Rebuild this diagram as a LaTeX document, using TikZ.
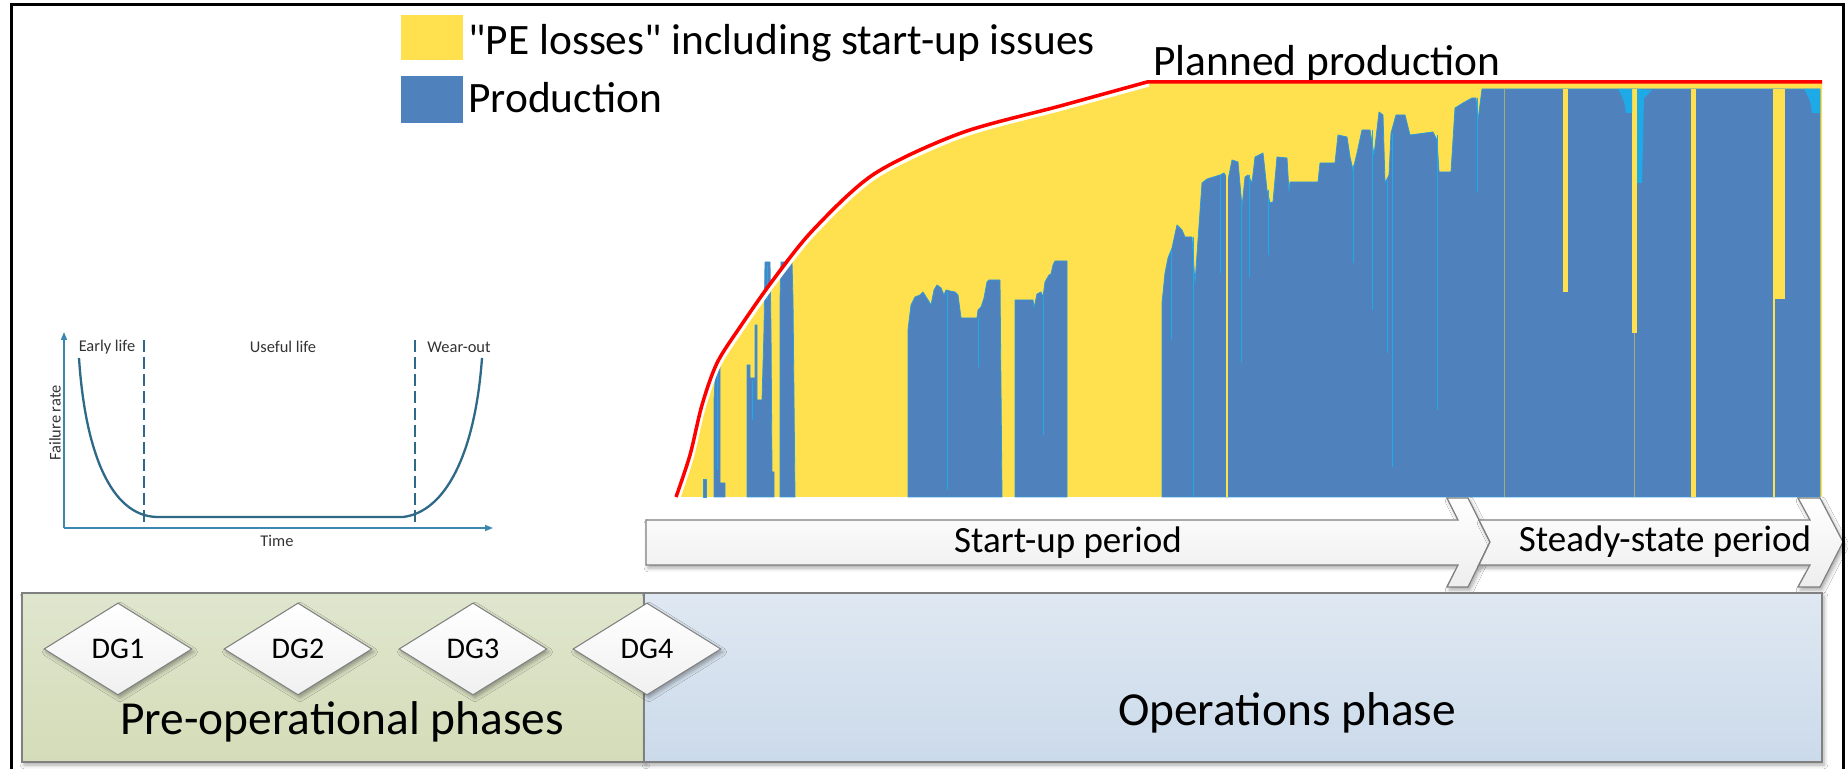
\documentclass[tikz,border=0pt]{standalone}
\usepackage{fontspec}
\setmainfont{Carlito}[Ligatures=TeXOff]
\usetikzlibrary{shapes.geometric,shadows.blur,arrows.meta}
\definecolor{ylw}{RGB}{255,225,80}
\definecolor{prodblue}{RGB}{79,129,189}
\definecolor{spikecyan}{RGB}{30,170,230}
\definecolor{tubcurve}{RGB}{46,105,135}
\definecolor{tubaxis}{RGB}{60,135,175}
\definecolor{olivetop}{RGB}{223,230,206}
\definecolor{olivebot}{RGB}{212,220,184}
\definecolor{opstop}{RGB}{223,232,242}
\definecolor{opsbot}{RGB}{203,218,234}
\definecolor{edgegray}{RGB}{128,128,128}
\definecolor{thinline}{RGB}{170,170,120}
\begin{document}
\begin{tikzpicture}[x=0.5pt,y=-0.5pt,
  legendtext/.style={font=\fontsize{21.7}{26}\selectfont, inner sep=0pt},
  periodtext/.style={font=\fontsize{18.5}{22}\selectfont, inner sep=0pt},
  phasetext/.style={font=\fontsize{23.7}{28}\selectfont, inner sep=0pt},
  tubtext/.style={font=\fontsize{8.2}{10}\selectfont, inner sep=0pt, text=black!80},
  softshadow/.style={blur shadow={shadow xshift=1pt, shadow yshift=-1.5pt, shadow blur steps=4, shadow opacity=35}},
  gate/.style={diamond, draw=edgegray, line width=0.5pt, top color=white, bottom color=black!6,
    minimum width=74pt, minimum height=46pt, inner sep=0pt, font=\fontsize{15}{18}\selectfont, softshadow},
  chevron/.style={draw=edgegray, line width=0.6pt, top color=white, bottom color=black!7, softshadow},
  phasebox/.style={draw=edgegray, line width=0.6pt, softshadow},
  prod/.style={fill=prodblue, draw=spikecyan!60!prodblue, line width=0.4pt, line join=round},
  spike/.style={draw=spikecyan, line width=0.5pt},
  ygap/.style={fill=ylw},
]
\useasboundingbox (0,0) rectangle (1848,769);
\fill[white] (0,0) rectangle (1848,769);

% ---------- legend ----------
\fill[ylw] (401,15) rectangle (463,60);
\fill[prodblue] (401,76) rectangle (463,123);
\node[legendtext, anchor=base west] (pelabel) at (468,55) {"PE losses" including start-up issues};
\node[legendtext, anchor=base west] (prodlabel) at (468,113) {Production};
\node[legendtext, anchor=base west] (planlabel) at (1153,76) {Planned production};

% ---------- planned area ----------
\fill[ylw] plot[smooth] coordinates {(676,497) (690,455) (702,405) (717,363) (740,327) (773,280) (813,230) (874,174) (961,133) (1060,106) (1147,82)} -- (1822,82) -- (1822,497) -- cycle;

% ---------- production bars ----------
\path[prod] (703,497) rectangle (706,479);
\path[prod] (714,497) -- (714,400) -- (716,363) -- (720,363) -- (720,483) -- (725,483) -- (725,497) -- cycle;
\path[prod] (747,497) -- (747,365) -- (750,365) -- (750,378) -- (755,378) -- (755,325) -- (757,325) -- (757,400) -- (762,400) -- (764,330) -- (765,262) -- (770,262) -- (771,330) -- (772,472) -- (774,472) -- (774,497) -- cycle;
\path[prod] (780,497) -- (780,300) -- (781,262) -- (792,262) -- (793,300) -- (795,497) -- cycle;
\path[prod] (908,497) -- (908,330) -- (911,305) -- (915,297) -- (920,295) -- (923,292) -- (928,300) -- (931,305) -- (934,290) -- (937,285) -- (941,288) -- (944,295) -- (946,290) -- (950,291) -- (955,292) -- (958,295) -- (961,318) -- (977,318) -- (978,310) -- (981,307) -- (984,298) -- (987,282) -- (989,280) -- (1000,280) -- (1002,497) -- cycle;
\path[prod] (1015,497) -- (1015,300) -- (1033,300) -- (1034,308) -- (1037,294) -- (1041,292) -- (1043,297) -- (1045,282) -- (1049,275) -- (1051,274) -- (1053,265) -- (1055,261) -- (1067,261) -- (1067,497) -- cycle;
\path[prod] (1162,497) -- (1162,303) -- (1165,273) -- (1168,258) -- (1172,248) -- (1177,225) -- (1182,230) -- (1185,237) -- (1192,237) -- (1195,283) -- (1198,240) -- (1202,183) -- (1207,179) -- (1220,175) -- (1224,173) -- (1228,180) -- (1232,160) -- (1238,162) -- (1242,207) -- (1245,177) -- (1248,175) -- (1252,183) -- (1255,157) -- (1263,153) -- (1267,190) -- (1270,203) -- (1273,202) -- (1277,157) -- (1287,158) -- (1289,192) -- (1290,182) -- (1318,182) -- (1320,163) -- (1335,163) -- (1338,135) -- (1347,137) -- (1350,157) -- (1353,170) -- (1357,153) -- (1362,130) -- (1370,130) -- (1374,155) -- (1379,112) -- (1383,115) -- (1385,183) -- (1389,175) -- (1391,133) -- (1396,115) -- (1405,115) -- (1410,135) -- (1433,132) -- (1437,140) -- (1439,172) -- (1451,172) -- (1455,108) -- (1463,103) -- (1472,98) -- (1476,98) -- (1478,120) -- (1482,89) -- (1820,89) -- (1820,497) -- cycle;

% spikes (dips) in light blue
\foreach \sx/\st/\sb in {717/365/470, 752/380/420, 767/265/300, 947/292/490, 978/318/367, 1043/297/435,
  1171/250/340, 1193/237/497, 1220/175/273, 1241/205/363, 1249/175/277, 1268/190/255, 1353/165/263,
  1372/130/310, 1387/180/353, 1392/133/467, 1437/135/410, 1477/98/193}
  \draw[spike] (\sx,\st) -- (\sx,\sb);
\draw[ylw, line width=1pt] (1227,175) -- (1227,497);
% steady-state gaps
\draw[thinline, line width=0.4pt] (1504,89) -- (1504,497);
\path[ygap] (1563,89) rectangle (1568,292);
\path[ygap] (1632,89) rectangle (1637,333);
\draw[thinline, line width=0.4pt] (1634,333) -- (1634,497);
\path[ygap] (1691,89) rectangle (1696,497);
\path[ygap] (1773,89) rectangle (1785,299);
\path[ygap] (1773,299) rectangle (1775,497);
\fill[spikecyan] (1618,89) -- (1632,89) -- (1632,113) -- (1626,113) .. controls (1624,100) .. (1618,89) -- cycle;
\fill[spikecyan] (1637,89) -- (1652,90) -- (1644,98) -- (1642,183) -- (1637,183) -- cycle;
\fill[spikecyan] (1804,89) -- (1820,89) -- (1820,113) -- (1812,113) .. controls (1810,100) .. (1804,89) -- cycle;

% white gap under planned line and planned line
\begin{scope}[shift={(2,3)}]
\draw[white, line width=1.6pt] plot[smooth] coordinates {(676,497) (690,455) (702,405) (717,363) (740,327) (773,280) (813,230) (874,174) (961,133) (1060,106) (1147,82)};
\end{scope}
\draw[red, line width=1.75pt, line join=round] plot[smooth] coordinates {(676,497) (690,455) (702,405) (717,363) (740,327) (773,280) (813,230) (874,174) (961,133) (1060,106) (1147,82)} -- (1822,82);

% ---------- bathtub curve ----------
\coordinate (tuborigin) at (64,528);
\coordinate (tubytop) at (64,332);
\coordinate (tubxend) at (493,528);
\draw[tubaxis, line width=0.8pt, -{Triangle[length=4pt,width=3pt]}] (tuborigin) -- (tubytop);
\draw[tubaxis, line width=0.8pt, -{Triangle[length=4pt,width=3pt]}] (tuborigin) -- (tubxend);
\draw[tubcurve, line width=0.6pt, dash pattern=on 6pt off 2.5pt] (144,340) -- (144,527);
\draw[tubcurve, line width=0.6pt, dash pattern=on 6pt off 2.5pt] (415,340) -- (415,527);
\draw[tubcurve, line width=1.15pt] (79,358) .. controls (85,450) and (110,516) .. (157,517) -- (403,517) .. controls (445,512) and (475,455) .. (482,358);
\node[tubtext] (early) at (107,347) {Early life};
\node[tubtext] (useful) at (283,347) {Useful life};
\node[tubtext] (wear) at (459,347) {Wear-out};
\node[tubtext] (time) at (277,541) {Time};
\node[tubtext, rotate=90] (frate) at (55,423) {Failure rate};

% ---------- period chevrons ----------
\path[chevron] (646,520) -- (1458,520) -- (1447,498) -- (1468,498) -- (1490,542) -- (1468,587) -- (1447,587) -- (1458,565) -- (646,565) -- cycle;
\path[chevron] (1479,520) -- (1810,520) -- (1798,498) -- (1820,498) -- (1843,542) -- (1820,587) -- (1798,587) -- (1810,565) -- (1479,565) -- (1490,542) -- cycle;
\node[periodtext] (startup) at (1068,543) {Start-up period};
\node[periodtext] (steady) at (1665,542) {Steady-state period};

% ---------- phase boxes ----------
\path[phasebox, top color=olivetop, bottom color=olivebot] (22,593) rectangle (644,762);
\path[phasebox, top color=opstop, bottom color=opsbot] (644,593) rectangle (1822,762);
\node[gate] (dg1) at (118,649) {DG1};
\node[gate] (dg2) at (298,649) {DG2};
\node[gate] (dg3) at (473,649) {DG3};
\node[gate] (dg4) at (647,649) {DG4};
\node[phasetext] (preop) at (342,722) {Pre-operational phases};
\node[phasetext] (ops) at (1287,713) {Operations phase};

% ---------- frame ----------
\draw[black, line width=1.5pt] (11,790) -- (11,5) -- (1843,5) -- (1843,790);
\end{tikzpicture}
\end{document}
